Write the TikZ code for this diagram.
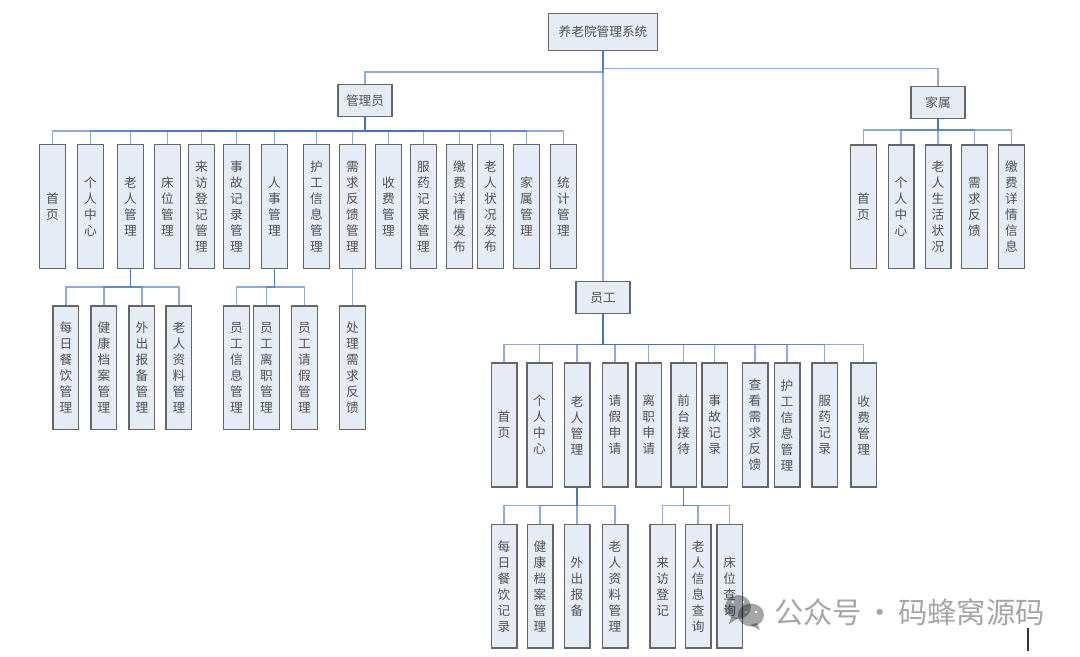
\documentclass[tikz,border=0pt]{standalone}
\usepackage{fontspec}
\setmainfont{Noto Sans CJK SC}
\usepackage{xcolor}
\usetikzlibrary{positioning}
\definecolor{boxfill}{HTML}{E6ECF6}
\definecolor{boxline}{HTML}{666666}
\definecolor{linkblue}{HTML}{4472C4}
\definecolor{markgray}{HTML}{A6A6A6}

\begin{document}
\begin{tikzpicture}[
    x=0.75pt, y=-0.75pt,
    box/.style={draw=boxline, fill=boxfill, line width=1.1pt, align=center, text=black!68, font=\fontsize{9.5}{12}\selectfont, inner sep=0pt},
    root/.style={box, minimum width=81.4pt, minimum height=27.4pt},
    role/.style={box, minimum width=40.8pt, minimum height=23.8pt},
    leaf/.style={box, minimum width=19.15pt, minimum height=92.8pt},
    link/.style={draw=linkblue, line width=1.15pt, opacity=0.6},
  ]
  \useasboundingbox (0,0) rectangle (1080,656);

  \node[root] (system) at (603,32) {养老院管理系统};
  \node[role] (admin) at (365,100.5) {管理员};
  \node[role] (family) at (938,102.5) {家属};
  \node[role] (staff) at (603,297.5) {员工};

  % admin menu
  \node[leaf] (a1) at (52.5,206.5) {首\\页};
  \node[leaf, right=8.25pt of a1] (a2) {个\\人\\中\\心};
  \node[leaf, right=9.75pt of a2] (a3) {老\\人\\管\\理};
  \node[leaf, right=7.5pt of a3] (a4) {床\\位\\管\\理};
  \node[leaf, right=5.25pt of a4] (a5) {来\\访\\登\\记\\管\\理};
  \node[leaf, right=6pt of a5] (a6) {事\\故\\记\\录\\管\\理};
  \node[leaf, right=8.25pt of a6] (a7) {人\\事\\管\\理};
  \node[leaf, right=11.25pt of a7] (a8) {护\\工\\信\\息\\管\\理};
  \node[leaf, right=6.75pt of a8] (a9) {需\\求\\反\\馈\\管\\理};
  \node[leaf, right=6.75pt of a9] (a10) {收\\费\\管\\理};
  \node[leaf, right=6pt of a10] (a11) {服\\药\\记\\录\\管\\理};
  \node[leaf, right=6.75pt of a11] (a12) {缴\\费\\详\\情\\发\\布};
  \node[leaf, right=3pt of a12] (a13) {老\\人\\状\\况\\发\\布};
  \node[leaf, right=6.75pt of a13] (a14) {家\\属\\管\\理};
  \node[leaf, right=7.5pt of a14] (a15) {统\\计\\管\\理};

  \node[leaf, below=27pt of a3, xshift=-48.4pt] (e1) {每\\日\\餐\\饮\\管\\理};
  \node[leaf, right=8.25pt of e1] (e2) {健\\康\\档\\案\\管\\理};
  \node[leaf, right=8.25pt of e2] (e3) {外\\出\\报\\备\\管\\理};
  \node[leaf, right=7.5pt of e3] (e4) {老\\人\\资\\料\\管\\理};

  \node[leaf, below=27pt of a7, xshift=-28.5pt] (h1) {员\\工\\信\\息\\管\\理};
  \node[leaf, right=2.25pt of h1] (h2) {员\\工\\离\\职\\管\\理};
  \node[leaf, right=8.25pt of h2] (h3) {员\\工\\请\\假\\管\\理};
  \node[leaf, below=27pt of a9] (r1) {处\\理\\需\\求\\反\\馈};

  % family menu
  \node[leaf, below=18.75pt of family] (f3) {老\\人\\生\\活\\状\\况};
  \node[leaf, left=7.5pt of f3] (f2) {个\\人\\中\\心};
  \node[leaf, left=7.9pt of f2] (f1) {首\\页};
  \node[leaf, right=7.1pt of f3] (f4) {需\\求\\反\\馈};
  \node[leaf, right=7.5pt of f4] (f5) {缴\\费\\详\\情\\信\\息};

  % staff menu
  \node[leaf] (s1) at (504,425) {首\\页};
  \node[leaf, right=6.4pt of s1] (s2) {个\\人\\中\\心};
  \node[leaf, right=7.9pt of s2] (s3) {老\\人\\管\\理};
  \node[leaf, right=8.25pt of s3] (s4) {请\\假\\申\\请};
  \node[leaf, right=4.9pt of s4] (s5) {离\\职\\申\\请};
  \node[leaf, right=6pt of s5] (s6) {前\\台\\接\\待};
  \node[leaf, right=3pt of s6] (s7) {事\\故\\记\\录};
  \node[leaf, right=10.1pt of s7] (s8) {查\\看\\需\\求\\反\\馈};
  \node[leaf, right=3.75pt of s8] (s9) {护\\工\\信\\息\\管\\理};
  \node[leaf, right=7.9pt of s9] (s10) {服\\药\\记\\录};
  \node[leaf, right=9pt of s10] (s11) {收\\费\\管\\理};

  \node[leaf, below=27pt of s3, xshift=-54.75pt] (c1) {每\\日\\餐\\饮\\记\\录};
  \node[leaf, right=6.75pt of c1] (c2) {健\\康\\档\\案\\管\\理};
  \node[leaf, right=7.5pt of c2] (c3) {外\\出\\报\\备};
  \node[leaf, right=8.25pt of c3] (c4) {老\\人\\资\\料\\管\\理};

  \node[leaf, below=27pt of s6, xshift=-15.75pt] (d1) {来\\访\\登\\记};
  \node[leaf, right=6.4pt of d1] (d2) {老\\人\\信\\息\\查\\询};
  \node[leaf, right=3.4pt of d2] (d3) {床\\位\\查\\询};

  % connectors
  \draw[link] (system.south) |- ([yshift=9pt]admin.north) -- (admin.north);
  \draw[link] (system.south) |- ([yshift=13pt]family.north) -- (family.north);
  \draw[link] (system.south) -- (staff.north);
  \foreach \n in {a1,a2,a3,a4,a5,a6,a7,a8,a9,a10,a11,a12,a13,a14,a15}
    \draw[link] (admin.south) |- ([yshift=9.75pt]\n.north) -- (\n.north);
  \foreach \n in {e1,e2,e3,e4}
    \draw[link] (a3.south) |- ([yshift=13.5pt]\n.north) -- (\n.north);
  \foreach \n in {h1,h2,h3}
    \draw[link] (a7.south) |- ([yshift=13.5pt]\n.north) -- (\n.north);
  \draw[link] (a9.south) -- (r1.north);
  \foreach \n in {f1,f2,f3,f4,f5}
    \draw[link] (family.south) |- ([yshift=10.5pt]\n.north) -- (\n.north);
  \foreach \n in {s1,s2,s3,s4,s5,s6,s7,s8,s9,s10,s11}
    \draw[link] (staff.south) |- ([yshift=13.5pt]\n.north) -- (\n.north);
  \foreach \n in {c1,c2,c3,c4}
    \draw[link] (s3.south) |- ([yshift=13.5pt]\n.north) -- (\n.north);
  \foreach \n in {d1,d2,d3}
    \draw[link] (s6.south) |- ([yshift=13.5pt]\n.north) -- (\n.north);

  % chat bubbles and account name
  \begin{scope}[blend mode=multiply]
    \fill[markgray, even odd rule] (738,607) ellipse (13 and 12) (733,602) circle (1.7) (743,602) circle (1.7);
    \fill[markgray] (731,617) -- (729,624) -- (738,618) -- cycle;
    \fill[markgray, even odd rule] (751,615) ellipse (13 and 11.5) (746,612) circle (1.5) (756,612) circle (1.5);
    \fill[markgray] (757,623) -- (760,630) -- (750,625) -- cycle;
  \end{scope}
  \node[anchor=west, inner sep=0pt, text=markgray, font=\fontsize{22}{24}\selectfont] (account) at (774,612) {公众号\hspace{2.5pt}·\hspace{2.5pt}码蜂窝源码};
  \draw[black!80, line width=0.9pt] (1028,628) -- (1028,651);
\end{tikzpicture}
\end{document}
